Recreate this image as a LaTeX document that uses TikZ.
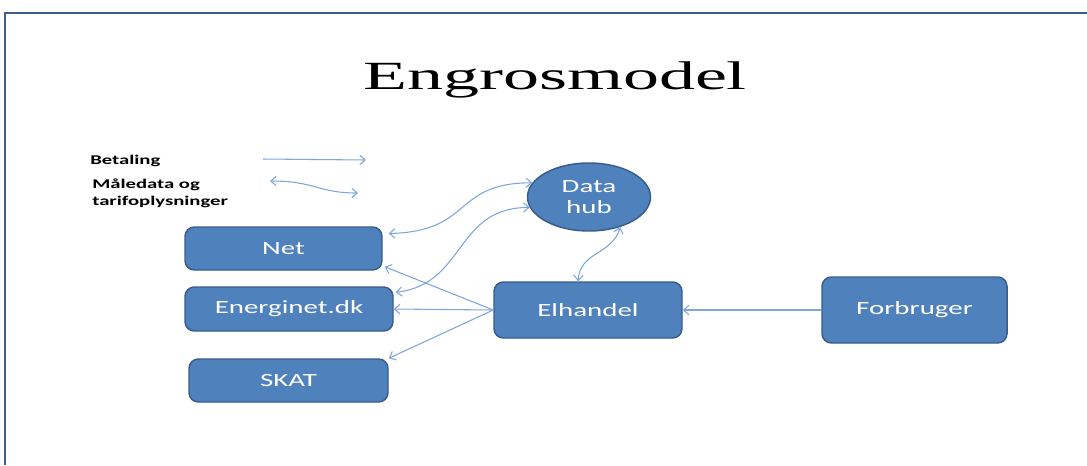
\documentclass[tikz,border=0pt]{standalone}
\usepackage{fontspec}
\usetikzlibrary{arrows.meta,shapes.geometric}
\newfontfamily\boxfont[FakeStretch=1.55]{Carlito}
\newfontfamily\titlefont[FakeStretch=1.8]{Liberation Serif}
\definecolor{boxblue}{HTML}{4F81BD}
\definecolor{boxedge}{HTML}{385D8A}
\definecolor{linkblue}{HTML}{7FA6DA}
\definecolor{framecol}{HTML}{3E5F8C}
\begin{document}
\begin{tikzpicture}[x=0.75pt,y=-0.75pt,
  blok/.style={draw=boxedge,fill=boxblue,line width=1.1pt,rounded corners=7pt,
    text=white,inner sep=0pt,font=\boxfont\fontsize{14}{16}\selectfont},
  hub/.style={blok,ellipse,rounded corners=0pt,align=center},
  link/.style={draw=linkblue,line width=0.8pt},
  pil/.style={link,-{Straight Barb[length=4pt,width=7pt]}},
  dobbelt/.style={link,{Straight Barb[length=4pt,width=7pt]}-{Straight Barb[length=4pt,width=7pt]}},
  forklaring/.style={font=\boxfont\bfseries\fontsize{10}{12.75}\selectfont,inner sep=0pt,align=left}]

\useasboundingbox (0,0) rectangle (1087,465);
\draw[framecol,line width=1.6pt] (5,465) -- (5,13) -- (1087,13); % ramme

\node[font=\titlefont\fontsize{30}{34}\selectfont,anchor=base] (titel) at (555,89) {Engrosmodel};

% forklaring
\node[forklaring,anchor=base west] (betaling) at (90,164) {Betaling};
\node[forklaring,anchor=west] (maaledata) at (92,193) {Måledata og\\tarifoplysninger};
\coordinate (b1) at (263,159);
\coordinate (b2) at (366,160);
\coordinate (m1) at (270,181);
\coordinate (m2) at (358,193);
\draw[pil] (b1) -- (b2);
\draw[dobbelt] (m1) .. controls +(45,0) and +(-40,0) .. (m2);

% aktoerer
\node[blok,minimum width=147.75pt,minimum height=32.25pt] (net) at (283.5,248.5) {Net};
\node[blok,minimum width=156pt,minimum height=33pt] (energinet) at (289,309) {Energinet.dk};
\node[blok,minimum width=149.25pt,minimum height=32.25pt] (skat) at (288.5,380.5) {SKAT};
\node[blok,minimum width=141pt,minimum height=42pt] (elhandel) at (588,310) {Elhandel};
\node[blok,minimum width=138.75pt,minimum height=49.5pt] (forbruger) at (914.5,310) {Forbruger};
\node[hub,minimum width=92.25pt,minimum height=51pt] (datahub) at (589,197) {Data\\hub};

% forbindelser
\draw[dobbelt] ([shift={(6,-15)}]net.east) .. controls +(85,-2) and +(-80,0) .. (datahub.166);
\draw[dobbelt] ([shift={(2,6)}]energinet.north east) .. controls +(70,-8) and +(-75,0) .. (datahub.190);
\draw[dobbelt] (datahub.-44) .. controls +(-8,28) and +(2,-30) .. ([shift={(-10,0)}]elhandel.north);
\draw[pil] (elhandel.west) -- ([shift={(2,-4)}]net.south east);
\draw[pil] (elhandel.west) -- (energinet.east);
\draw[pil] (elhandel.west) -- (skat.north east);
\draw[pil] (forbruger.west) -- (elhandel.east);

\end{tikzpicture}
\end{document}
